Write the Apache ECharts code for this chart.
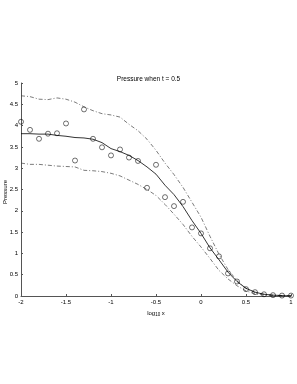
<!DOCTYPE html>
<html>
<head>
<meta charset="utf-8">
<script src="https://cdn.jsdelivr.net/npm/echarts@6/dist/echarts.min.js"></script>
<style>html,body{margin:0;padding:0;background:#fff;}#c{width:297px;height:384px;}</style>
</head>
<body>
<div id="c"></div>
<script>
const xs = [-2.0,-1.9,-1.8,-1.7,-1.6,-1.5,-1.4,-1.3,-1.2,-1.1,-1.0,-0.9,-0.8,-0.7,-0.6,-0.5,-0.4,-0.3,-0.2,-0.1,0.0,0.1,0.2,0.3,0.4,0.5,0.6,0.7,0.8,0.9,1.0];
const observed = [4.09,3.90,3.69,3.81,3.82,4.05,3.18,4.38,3.69,3.49,3.30,3.44,3.25,3.17,2.54,3.08,2.32,2.11,2.21,1.61,1.47,1.12,0.93,0.53,0.34,0.16,0.09,0.04,0.02,0.01,0.01];
const meanLine = [3.81,3.81,3.80,3.80,3.77,3.75,3.72,3.71,3.68,3.60,3.46,3.39,3.30,3.18,3.03,2.86,2.60,2.38,2.10,1.77,1.47,1.13,0.85,0.56,0.34,0.18,0.09,0.04,0.02,0.01,0.00];
const upperLine = [4.70,4.68,4.62,4.61,4.65,4.62,4.55,4.44,4.35,4.28,4.25,4.20,4.03,3.88,3.68,3.42,3.12,2.85,2.55,2.20,1.85,1.40,0.98,0.62,0.36,0.18,0.08,0.04,0.02,0.01,0.01];
const lowerLine = [3.12,3.09,3.09,3.07,3.05,3.04,3.03,2.95,2.94,2.92,2.88,2.82,2.72,2.62,2.50,2.36,2.15,1.92,1.68,1.40,1.15,0.88,0.60,0.40,0.24,0.12,0.05,0.02,0.01,0.00,0.00];
const xTicks = [-2,-1.5,-1,-0.5,0,0.5,1];
const yTicks = [0,0.5,1,1.5,2,2.5,3,3.5,4,4.5,5];

const pair = a => xs.map((x,i)=>[x,a[i]]);
const font = 'Liberation Sans, Arial, sans-serif';
const chart = echarts.init(document.getElementById('c'), null, {renderer:'canvas'});
chart.setOption({
  animation:false,
  backgroundColor:'#fff',
  title:{text:'Pressure when t = 0.5', left:'center', top:71,
    textStyle:{fontFamily:font,fontSize:6.5,fontWeight:'normal',color:'#000'}},
  grid:{left:21,right:6,top:83,bottom:88,containLabel:false,outerBoundsMode:'none'},
  graphic:[{type:'text',left:2,top:180,rotation:Math.PI/2,
    style:{text:'Pressure',font:'6px '+font,fill:'#000'}}],
  xAxis:{type:'value',min:-2,max:1,interval:0.5,
    name:'{a|log}{s|10}{a| x}',nameLocation:'middle',nameGap:11,
    nameTextStyle:{rich:{a:{fontFamily:font,fontSize:6,color:'#000'},s:{fontFamily:font,fontSize:4.5,color:'#000',verticalAlign:'bottom',padding:[4,0,0,0]}}},
    axisLine:{show:true,onZero:false,lineStyle:{color:'#555',width:1}},
    axisTick:{show:true,inside:true,length:2,lineStyle:{color:'#555'}},
    axisLabel:{fontFamily:font,fontSize:6,color:'#000',margin:3,
      formatter:v=>String(v)},
    splitLine:{show:false}},
  yAxis:{type:'value',min:0,max:5,interval:0.5,
    axisLine:{show:true,onZero:false,lineStyle:{color:'#555',width:1}},
    axisTick:{show:true,inside:true,length:2,lineStyle:{color:'#555'}},
    axisLabel:{fontFamily:font,fontSize:6,color:'#000',margin:3,formatter:v=>String(v)},
    splitLine:{show:false}},
  series:[
    {type:'line',data:pair(upperLine),symbol:'none',lineStyle:{color:'#444',width:0.7,type:[4,2,1,2]}},
    {type:'line',data:pair(lowerLine),symbol:'none',lineStyle:{color:'#444',width:0.7,type:[4,2,1,2]}},
    {type:'line',data:pair(meanLine),symbol:'none',lineStyle:{color:'#000',width:0.8}},
    {type:'scatter',data:pair(observed),symbol:'circle',symbolSize:5,
      itemStyle:{color:'rgba(0,0,0,0)',borderColor:'#000',borderWidth:0.7}}
  ]
});
</script>
</body>
</html>
